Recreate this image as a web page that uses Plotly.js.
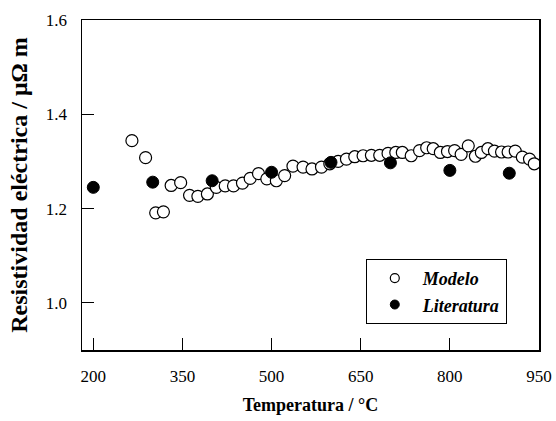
<!DOCTYPE html>
<html>
<head>
<meta charset="utf-8">
<script src="https://cdn.plot.ly/plotly-3.0.1.min.js"></script>
<style>html,body{margin:0;padding:0;background:#fff;}#chart{width:556px;height:421px;}</style>
</head>
<body>
<div id="chart"></div>
<script>
// Modelo (open circles)
const modeloT = [265, 288, 305, 318, 331, 347, 362, 376, 392, 407, 422, 436, 451, 464, 478, 492, 508, 522, 536, 553, 568, 584, 598, 612, 626, 640, 654, 668, 682, 696, 709, 720, 735, 749, 761, 772, 784, 796, 808, 819, 831, 843, 853, 864, 875, 887, 898, 910, 922, 934, 942];
const modeloR = [1.344, 1.308, 1.191, 1.193, 1.249, 1.255, 1.228, 1.226, 1.231, 1.245, 1.248, 1.248, 1.254, 1.264, 1.274, 1.263, 1.259, 1.270, 1.290, 1.288, 1.284, 1.288, 1.295, 1.300, 1.305, 1.310, 1.312, 1.313, 1.313, 1.317, 1.319, 1.319, 1.312, 1.323, 1.329, 1.327, 1.319, 1.321, 1.323, 1.315, 1.333, 1.311, 1.319, 1.327, 1.322, 1.320, 1.320, 1.322, 1.309, 1.305, 1.295];
// Literatura (filled circles)
const literaturaT = [200, 300, 400, 500, 600, 700, 800, 900];
const literaturaR = [1.245, 1.256, 1.259, 1.277, 1.298, 1.297, 1.281, 1.275];
const xTicks = [200, 350, 500, 650, 800, 950];
const yTicks = [1.0, 1.2, 1.4, 1.6];
const yTickText = ['1.0', '1.2', '1.4', '1.6'];
const seriesNames = ['Modelo', 'Literatura'];

const serif = 'Liberation Serif';

const openMarker = {symbol: 'circle', color: '#ffffff', line: {color: '#000000', width: 1.2}};
const fullMarker = {symbol: 'circle', color: '#000000', line: {color: '#000000', width: 1}};

const traces = [
  {
    x: modeloT, y: modeloR, name: seriesNames[0], type: 'scatter', mode: 'markers', showlegend: false,
    marker: Object.assign({size: 12}, openMarker)
  },
  {
    x: literaturaT, y: literaturaR, name: seriesNames[1], type: 'scatter', mode: 'markers', showlegend: false,
    marker: Object.assign({size: 12}, fullMarker)
  },
  // legend entries (smaller symbols as in the original legend)
  {
    x: [null], y: [null], name: seriesNames[0], type: 'scatter', mode: 'markers', showlegend: true,
    marker: Object.assign({size: 9}, openMarker)
  },
  {
    x: [null], y: [null], name: seriesNames[1], type: 'scatter', mode: 'markers', showlegend: true,
    marker: Object.assign({size: 9}, fullMarker)
  }
];

const layout = {
  width: 556, height: 421,
  margin: {l: 82, r: 17, t: 20, b: 71},
  paper_bgcolor: '#ffffff', plot_bgcolor: '#ffffff',
  font: {family: serif, color: '#000000', size: 17},
  showlegend: true,
  legend: {
    x: 0.621, y: 0.276, xanchor: 'left', yanchor: 'top',
    bordercolor: '#000000', borderwidth: 1, bgcolor: '#ffffff',
    font: {family: serif, size: 18, style: 'italic', weight: 'bold'},
    itemwidth: 46, tracegroupgap: 0
  },
  xaxis: {
    range: [181, 950], tickvals: xTicks, ticks: 'inside', ticklen: 12, tickwidth: 1.2,
    tickcolor: '#000000', showline: true, linecolor: '#000000', linewidth: 1.5, mirror: true,
    showgrid: false, zeroline: false, ticklabelstandoff: 10,
    tickfont: {family: serif, size: 17},
    title: {text: 'Temperatura / °C', font: {family: serif, size: 18, weight: 'bold'}, standoff: 13}
  },
  yaxis: {
    range: [0.9, 1.6], tickvals: yTicks, ticktext: yTickText, ticks: 'inside', ticklen: 12, tickwidth: 1.2,
    tickcolor: '#000000', showline: true, linecolor: '#000000', linewidth: 1.5, mirror: true,
    showgrid: false, zeroline: false, ticklabelstandoff: 10,
    tickfont: {family: serif, size: 17},
    title: {text: 'Resistividad eléctrica / μΩ m', font: {family: serif, size: 24, weight: 'bold'}, standoff: 11}
  }
};

Plotly.newPlot('chart', traces, layout, {displayModeBar: false, staticPlot: true});
</script>
</body>
</html>
